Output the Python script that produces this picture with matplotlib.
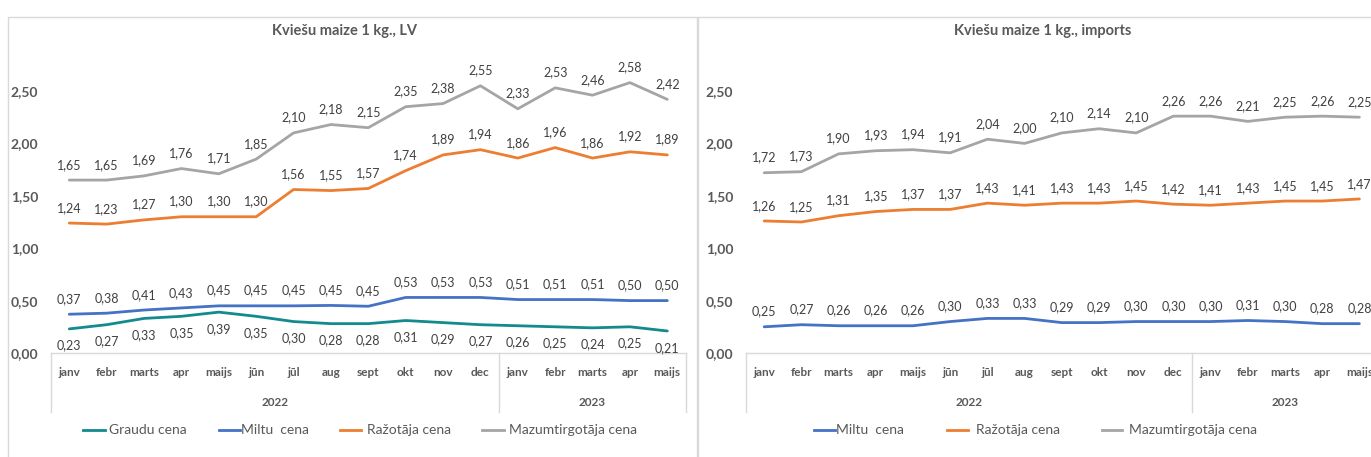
import matplotlib
matplotlib.use("Agg")
import matplotlib.pyplot as plt
import matplotlib.transforms as mtransforms
from matplotlib.lines import Line2D
from matplotlib.patches import Rectangle

plt.rcParams['font.family'] = ['Lato', 'DejaVu Sans']

months = ["janv", "febr", "marts", "apr", "maijs", "jūn", "jūl", "aug", "sept",
          "okt", "nov", "dec", "janv", "febr", "marts", "apr", "maijs"]
years = ["2022", "2023"]
year_counts = [12, 5]

# Left chart: LV
lv_graudu = [0.23, 0.27, 0.33, 0.35, 0.39, 0.35, 0.30, 0.28, 0.28, 0.31, 0.29, 0.27, 0.26, 0.25, 0.24, 0.25, 0.21]
lv_miltu = [0.37, 0.38, 0.41, 0.43, 0.45, 0.45, 0.45, 0.454, 0.446, 0.53, 0.53, 0.53, 0.51, 0.51, 0.51, 0.50, 0.50]
lv_razotaja = [1.24, 1.23, 1.27, 1.30, 1.30, 1.30, 1.56, 1.55, 1.57, 1.74, 1.89, 1.94, 1.86, 1.96, 1.86, 1.92, 1.89]
lv_mazum = [1.65, 1.65, 1.69, 1.76, 1.71, 1.85, 2.10, 2.18, 2.15, 2.35, 2.38, 2.55, 2.33, 2.53, 2.46, 2.58, 2.42]

# Right chart: imports
im_miltu = [0.25, 0.27, 0.26, 0.26, 0.26, 0.30, 0.33, 0.33, 0.29, 0.29, 0.30, 0.30, 0.30, 0.31, 0.30, 0.28, 0.28]
im_razotaja = [1.26, 1.25, 1.31, 1.35, 1.37, 1.37, 1.43, 1.41, 1.43, 1.43, 1.45, 1.42, 1.41, 1.43, 1.45, 1.45, 1.47]
im_mazum = [1.72, 1.73, 1.90, 1.93, 1.94, 1.91, 2.04, 2.00, 2.10, 2.14, 2.10, 2.26, 2.26, 2.21, 2.25, 2.26, 2.25]

yticks = [0.0, 0.5, 1.0, 1.5, 2.0, 2.5]

C_TEAL = "#138A8E"
C_BLUE = "#4472C4"
C_ORANGE = "#ED7D31"
C_GRAY = "#A5A5A5"
TXT = "#595959"
LBL = "#404040"
BORDER = "#D9D9D9"

W, H = 1371, 457
fig = plt.figure(figsize=(W / 100, H / 100), dpi=100)


def fx(px):
    return px / W


def fy(py):
    return 1 - py / H


def fmt(v):
    return f"{v:.2f}".replace(".", ",")


def make_panel(x_left, x_right, panel_left, title, title_cx, series, legend_items):
    # panel border
    fig.patches.append(Rectangle((fx(panel_left), fy(480)), fx(690), fy(17) - fy(480),
                                 transform=fig.transFigure, fill=False,
                                 edgecolor=BORDER, linewidth=1.0))
    y0, ytop = 353, 38.6
    ax = fig.add_axes([fx(x_left), fy(y0), fx(x_right) - fx(x_left), fy(ytop) - fy(y0)])
    ax.set_xlim(-0.5, len(months) - 0.5)
    ax.set_ylim(0, 3.0)
    ax.patch.set_alpha(0)
    for s in ["top", "right", "left"]:
        ax.spines[s].set_visible(False)
    ax.spines["bottom"].set_color(BORDER)
    ax.spines["bottom"].set_linewidth(1.0)
    ax.set_yticks(yticks)
    ax.set_yticklabels([fmt(v) for v in yticks], fontsize=10, fontweight="bold", color=TXT)
    ax.tick_params(axis="y", length=0, pad=9)
    ax.set_xticks([])
    x = list(range(len(months)))
    for vals, color, pos in series:
        ax.plot(x, vals, color=color, linewidth=2.0, solid_capstyle="round", clip_on=False)
        for xi, v in zip(x, vals):
            off = 11 if pos == "above" else -12
            ax.annotate(fmt(v), (xi, v), xytext=(0, off), textcoords="offset points",
                        ha="center", va="center", fontsize=9, color=LBL, annotation_clip=False)
    # category axis text
    bt = mtransforms.blended_transform_factory(ax.transData, fig.transFigure)
    for xi, m in enumerate(months):
        ax.text(xi, fy(373), m, transform=bt, ha="center", va="center",
                fontsize=8.5, fontweight="bold", color=TXT, clip_on=False)
    start = -0.5
    bounds = [start]
    for yr, cnt in zip(years, year_counts):
        mid = start + cnt / 2
        ax.text(mid, fy(403), yr, transform=bt, ha="center", va="center",
                fontsize=8.5, fontweight="bold", color=TXT, clip_on=False)
        start += cnt
        bounds.append(start)
    for b in bounds:
        ax.add_line(Line2D([b, b], [fy(353), fy(412)], transform=bt, color=BORDER,
                           linewidth=1.0, clip_on=False))
    # title
    fig.text(fx(title_cx), fy(31), title, ha="center", va="center", fontsize=10.5,
             fontweight="bold", color=TXT)
    # legend
    for lx0, lx1, tx, label, color in legend_items:
        fig.add_artist(Line2D([fx(lx0), fx(lx1)], [fy(430), fy(430)], transform=fig.transFigure,
                              color=color, linewidth=2.0))
        fig.text(fx(tx), fy(430), label, ha="left", va="center", fontsize=10, color=TXT)
    return ax


make_panel(50.6, 686, 8, "Kviešu maize 1 kg., LV", 345,
           [(lv_mazum, C_GRAY, "above"), (lv_razotaja, C_ORANGE, "above"),
            (lv_miltu, C_BLUE, "above"), (lv_graudu, C_TEAL, "below")],
           [(83, 105, 109, "Graudu cena", C_TEAL),
            (219, 240, 241, "Miltu  cena", C_BLUE),
            (340, 361, 367, "Ražotāja cena", C_ORANGE),
            (482, 504, 509, "Mazumtirgotāja cena", C_GRAY)])

make_panel(745.6, 1378, 697, "Kviešu maize 1 kg., imports", 1043,
           [(im_mazum, C_GRAY, "above"), (im_razotaja, C_ORANGE, "above"),
            (im_miltu, C_BLUE, "above")],
           [(814, 835, 836, "Miltu  cena", C_BLUE),
            (947, 968, 976, "Ražotāja cena", C_ORANGE),
            (1102, 1122, 1129, "Mazumtirgotāja cena", C_GRAY)])

fig.savefig("out.png", dpi=100)
